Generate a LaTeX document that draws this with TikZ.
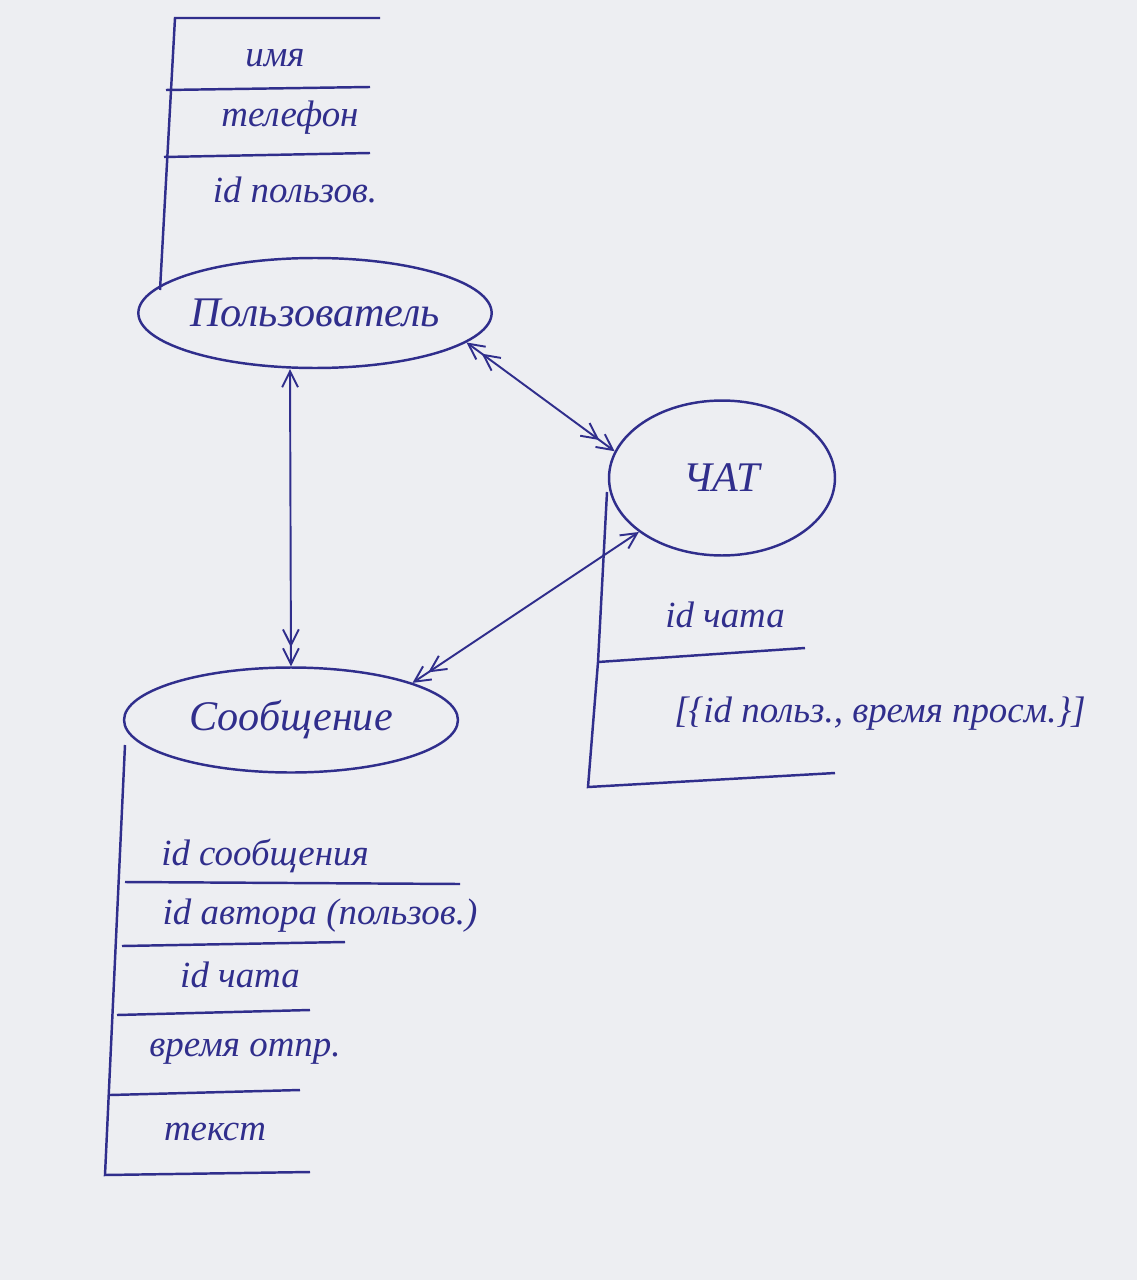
\documentclass[tikz,border=0pt]{standalone}
\usepackage{fontspec}
\setmainfont{Liberation Serif}
\usetikzlibrary{shapes.geometric, arrows.meta, positioning, calc}
\definecolor{ink}{RGB}{48,46,140}
\definecolor{paper}{RGB}{237,238,242}

\begin{document}
\begin{tikzpicture}[
    x=0.02cm, y=-0.02cm,
    % Define styles
    entity/.style={ellipse, draw=ink, line width=1.4pt, text=ink, inner sep=0pt, font=\fontsize{24}{28}\selectfont\itshape},
    field/.style={text=ink, inner sep=1pt, font=\fontsize{21}{25}\selectfont\itshape},
    rule/.style={draw=ink, line width=1.4pt},
    one/.tip={Straight Barb[length=9pt, width=9pt]},
    many/.tip={Straight Barb[length=9pt, width=9pt] Straight Barb[length=9pt, width=9pt]},
    link/.style={draw=ink, line width=1.1pt},
    ]

    % Paper
    \fill[paper] (0,0) rectangle (1137,1280);
    \useasboundingbox (0,0) rectangle (1137,1280);

    % Main nodes
    \node[entity, minimum width=6.68cm, minimum height=2.2cm] (user) at (315,313) {Пользователь};
    \node[entity, minimum width=4.52cm, minimum height=3.1cm] (chat) at (722,478) {ЧАТ};
    \node[entity, minimum width=6.68cm, minimum height=2.1cm] (msg) at (291,720) {Сообщение};

    % User fields
    \draw[rule] (380,18) -- (175,18) -- (160,290);
    \draw[rule] (166,90) -- (370,87);
    \draw[rule] (164,157) -- (370,153);
    \node[field] (uname) at (275,58) {имя};
    \node[field] (uphone) at (290,118) {телефон};
    \node[field] (uid) at (295,190) {id пользов.};

    % Chat fields
    \draw[rule] (607,492) -- (598,662) -- (588,787) -- (835,773);
    \draw[rule] (598,662) -- (805,648);
    \node[field] (cid) at (725,615) {id чата};
    \node[field] (cviews) at (880,714) {[\{id польз., время просм.\}]};

    % Message fields
    \draw[rule] (125,745) -- (105,1175) -- (310,1172);
    \draw[rule] (125,882) -- (460,884);
    \draw[rule] (122,946) -- (345,942);
    \draw[rule] (117,1015) -- (310,1010);
    \draw[rule] (110,1095) -- (300,1090);
    \node[field] (mid) at (265,856) {id сообщения};
    \node[field] (mauthor) at (320,916) {id автора (пользов.)};
    \node[field] (mchat) at (240,975) {id чата};
    \node[field] (mtime) at (245,1052) {время отпр.};
    \node[field] (mtext) at (215,1132) {текст};

    % Arrows
    \draw[link, {one}-{many}] ($(user.south)+(-25,0)$) -- (msg.north);
    \draw[link, {many}-{many}] (user.-11) -- (chat.166);
    \draw[link, {one}-{many}] (chat.213) -- (msg.17);

\end{tikzpicture}
\end{document}
